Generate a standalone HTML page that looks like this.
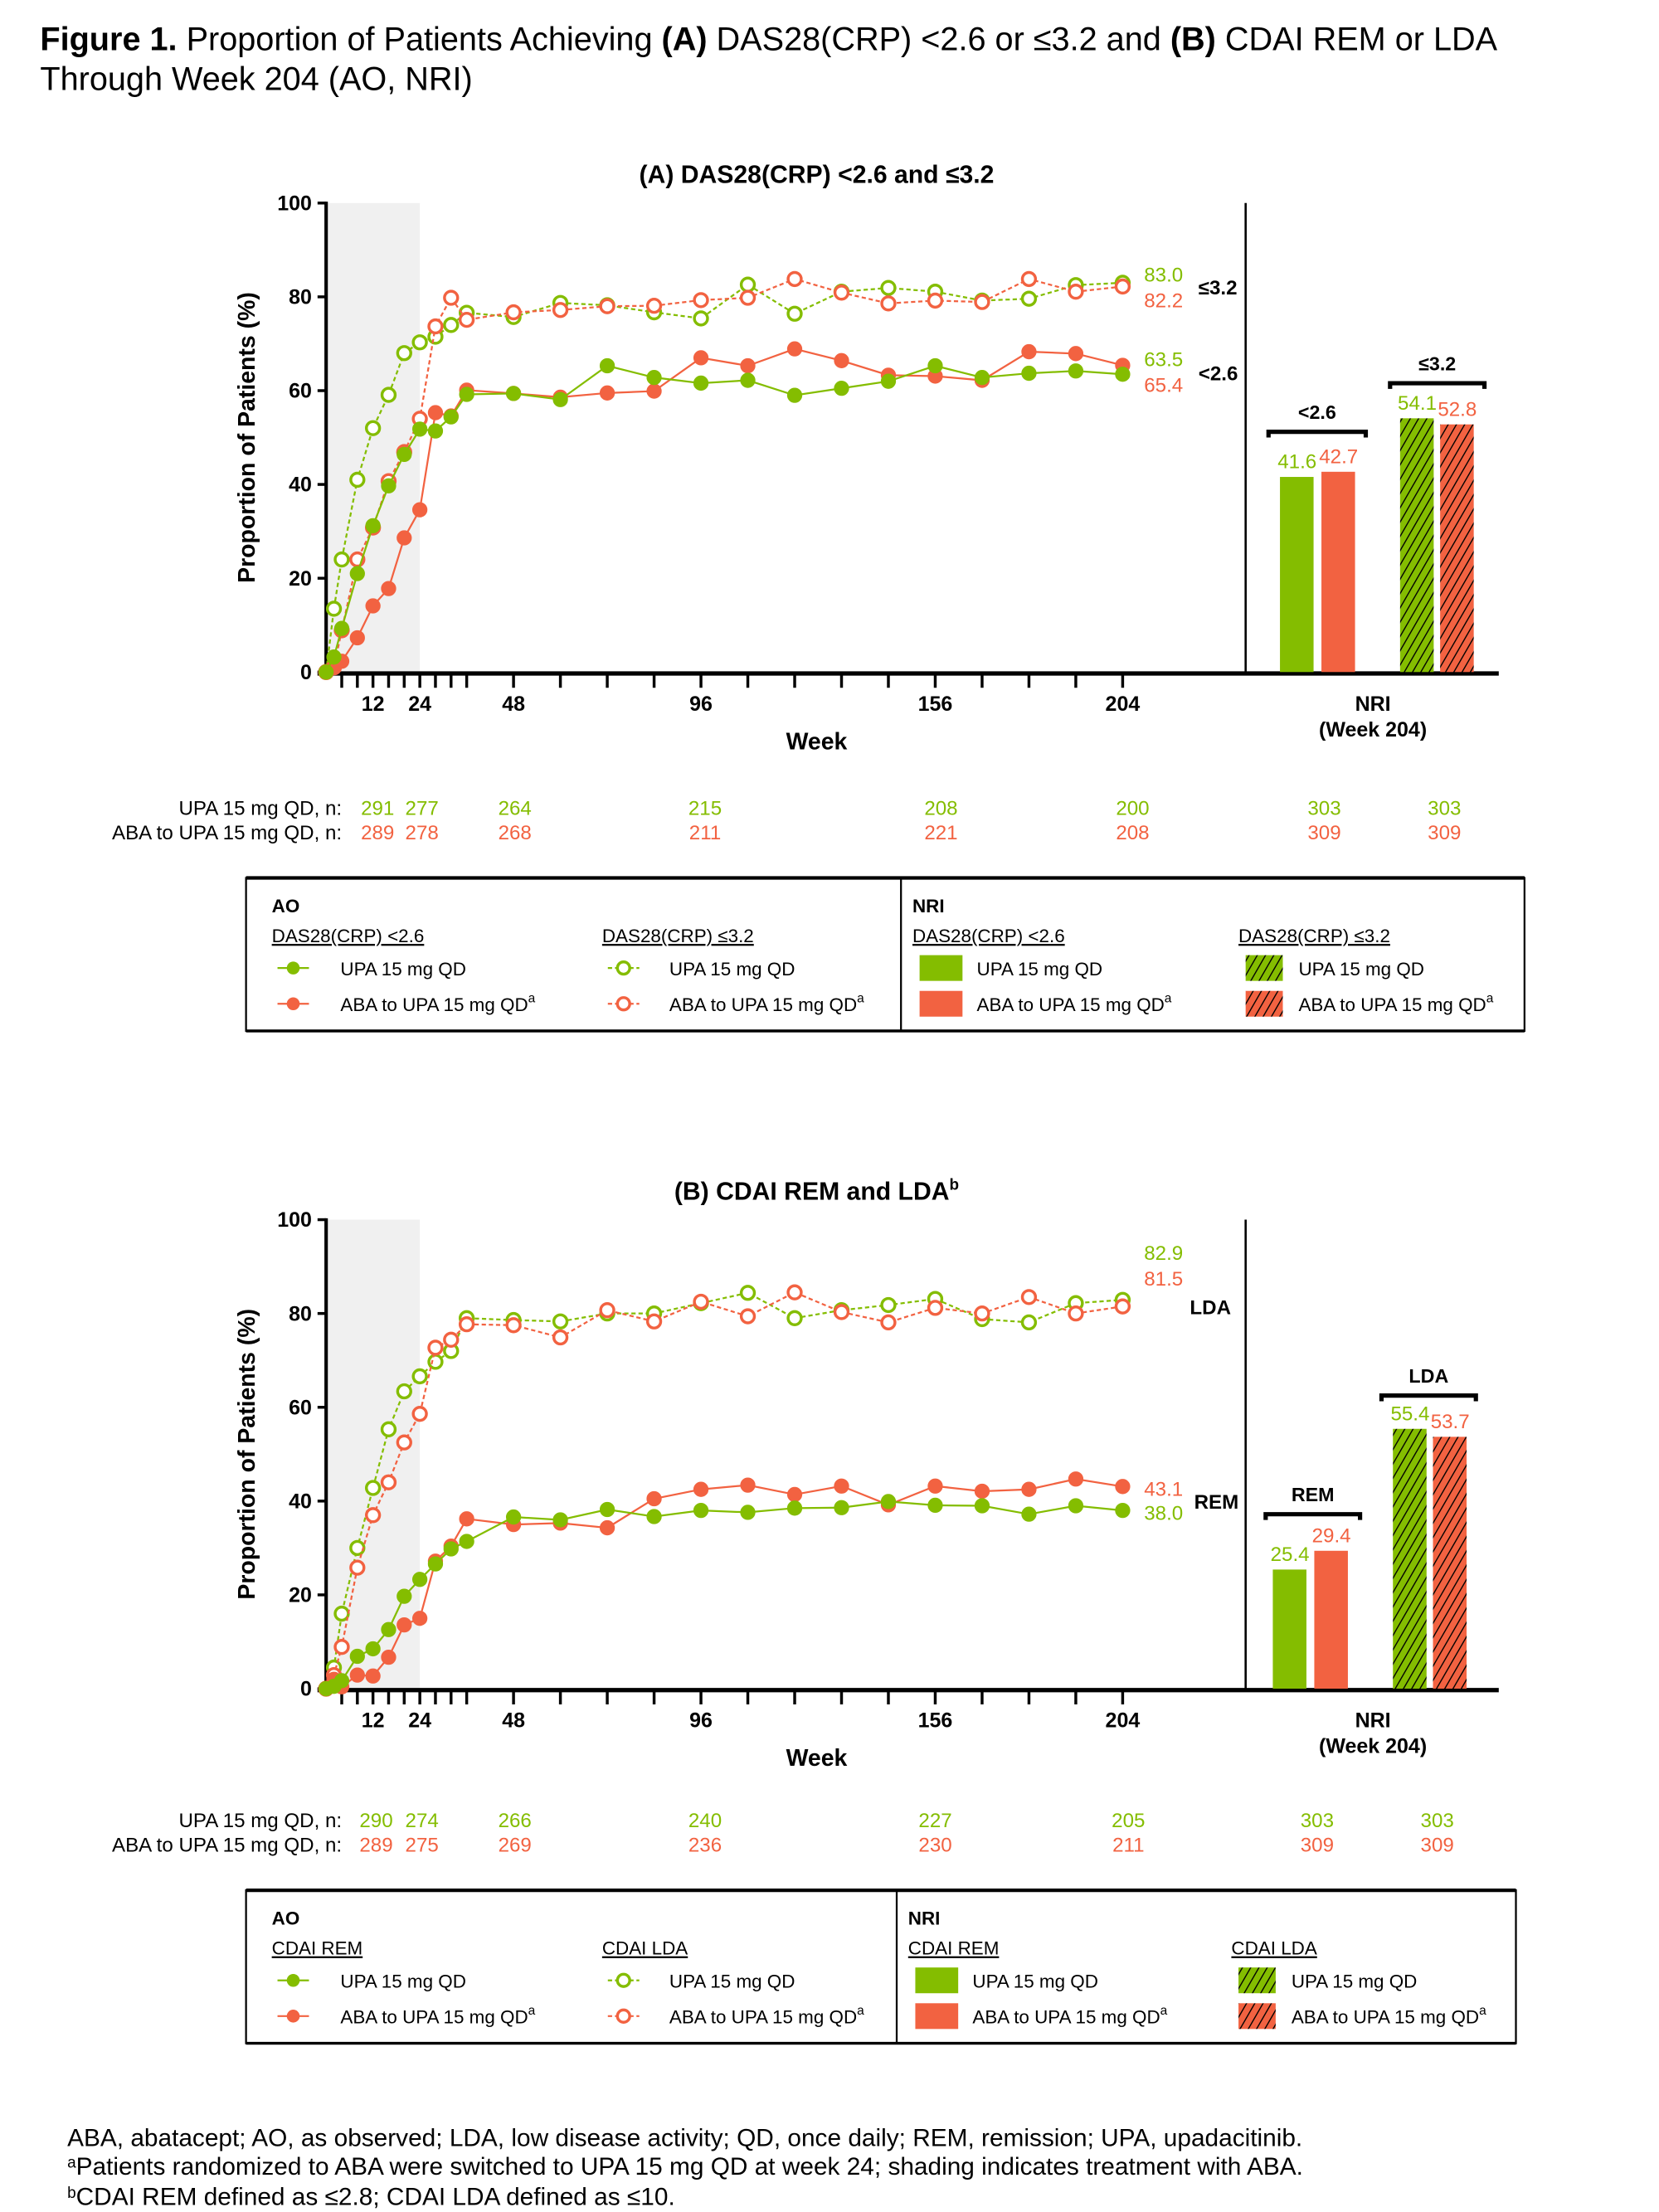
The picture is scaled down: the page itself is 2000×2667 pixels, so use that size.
<!DOCTYPE html>
<html><head><meta charset="utf-8"><style>
html,body{margin:0;padding:0;background:#fff}
svg{display:block}
text{font-family:"Liberation Sans",Arial,sans-serif}
.b{font-weight:bold}
</style></head><body>
<svg id="fig" xmlns="http://www.w3.org/2000/svg" width="2000" height="2667" viewBox="0 0 1160 1547">
<defs>
<pattern id="hatchG" patternUnits="userSpaceOnUse" width="5" height="5" patternTransform="rotate(30)"><rect width="5" height="5" fill="#84bd00"/><line x1="0" y1="0" x2="0" y2="5" stroke="#000" stroke-width="1.6"/></pattern>
<pattern id="hatchR" patternUnits="userSpaceOnUse" width="5" height="5" patternTransform="rotate(30)"><rect width="5" height="5" fill="#f26241"/><line x1="0" y1="0" x2="0" y2="5" stroke="#000" stroke-width="1.6"/></pattern>
</defs>
<g>
<text x="28" y="35" font-size="23"><tspan class="b">Figure 1.</tspan> Proportion of Patients Achieving <tspan class="b">(A)</tspan> DAS28(CRP) &lt;2.6 or ≤3.2 and <tspan class="b">(B)</tspan> CDAI REM or LDA</text>
<text x="28" y="63" font-size="23">Through Week 204 (AO, NRI)</text>
</g>
<g id="panelA"></g>
<g id="panelB"></g>
<g font-size="17.3">
<text x="47" y="1501">ABA, abatacept; AO, as observed; LDA, low disease activity; QD, once daily; REM, remission; UPA, upadacitinib.</text>
<text x="47" y="1521"><tspan font-size="11" dy="-5">a</tspan><tspan dy="5">Patients randomized to ABA were switched to UPA 15 mg QD at week 24; shading indicates treatment with ABA.</tspan></text>
<text x="47" y="1542"><tspan font-size="11" dy="-5">b</tspan><tspan dy="5">CDAI REM defined as ≤2.8; CDAI LDA defined as ≤10.</tspan></text>
</g>
</svg>
<script>
const weeks=[0,2,4,8,12,16,20,24,28,32,36,48,60,72,84,96,108,120,132,144,156,168,180,192,204];
const xTickWeeks=[4,8,12,16,20,24,28,32,36,48,60,72,84,96,108,120,132,144,156,168,180,192,204];
const xTickLabels=[12,24,48,96,156,204];
const yTicks=[0,20,40,60,80,100];
const aUpaSolid=[0,3.2,9.3,21,31.2,39.7,46.4,51.8,51.4,54.4,59.2,59.4,58.1,65.3,62.8,61.6,62.2,59,60.5,62,65.3,62.8,63.7,64.2,63.5];
const aAbaSolid=[0,1,2.3,7.3,14.1,17.8,28.6,34.6,55.3,54.6,60.1,59.4,58.6,59.5,59.9,67,65.3,68.9,66.4,63.3,63.1,62.2,68.3,67.9,65.4];
const aUpaOpen=[0,13.5,24,41,52,59.1,68,70.3,71.5,74,76.6,75.7,78.7,78.2,76.7,75.4,82.6,76.4,81.1,81.9,81.1,79.2,79.6,82.5,83.0];
const aAbaOpen=[0,1,8.9,24,30.8,40.7,46.9,54,73.7,79.8,75.1,76.7,77.2,78,78.1,79.3,79.8,83.8,80.9,78.6,79.2,78.9,83.8,81.1,82.2];
const bUpaSolid=[0,0.5,1.7,6.9,8.5,12.6,19.7,23.3,26.6,29.8,31.4,36.6,36,38.2,36.7,38,37.6,38.5,38.6,39.9,39.1,39,37.2,39,38.0];
const bAbaSolid=[0,2,0.4,2.9,2.7,6.7,13.6,15,27.2,30.4,36.2,35,35.3,34.3,40.5,42.5,43.4,41.4,43.2,39.2,43.2,42.1,42.5,44.7,43.1];
const bUpaOpen=[0,4.5,16,30,42.8,55.3,63.4,66.6,69.7,72,79,78.6,78.3,80,80,82.2,84.4,79,80.7,81.8,83.1,78.8,78.1,82.2,82.9];
const bAbaOpen=[0,2.9,8.9,25.8,37,44,52.5,58.6,72.7,74.4,77.7,77.5,74.9,80.7,78.3,82.5,79.4,84.5,80.3,78.1,81.2,80,83.5,80,81.5];
const aBarValues=[41.6,42.7,54.1,52.8];
const bBarValues=[25.4,29.4,55.4,53.7];
const aBarLabels=["41.6","42.7","54.1","52.8"];
const bBarLabels=["25.4","29.4","55.4","53.7"];
const aNUpa=["291","277","264","215","208","200","303","303"];
const aNAba=["289","278","268","211","221","208","309","309"];
const bNUpa=["290","274","266","240","227","205","303","303"];
const bNAba=["289","275","269","236","230","211","309","309"];

const G="#84bd00",R="#f26241",NS="http://www.w3.org/2000/svg";
function el(p,t,a,txt){const e=document.createElementNS(NS,t);for(const k in a)e.setAttribute(k,a[k]);if(txt!==undefined)e.textContent=txt;p.appendChild(e);return e;}

function panel(root,cfg){
  const y0=cfg.y0,y100=y0-328,X0=228,X1=785;
  const xs=w=>X0+(w/204)*(X1-X0);
  const ys=v=>y0-(v/100)*(y0-y100);
  let e;
  e=el(root,'text',{x:571,y:y100-14,'font-size':17.5,'text-anchor':'middle','class':'b'});
  
  e.textContent=cfg.title; if(cfg.sup){const s=el(e,'tspan',{'font-size':11,dy:-7},cfg.sup);}
  e=el(root,'rect',{x:X0,y:y100,width:xs(24)-X0,height:y0-y100,fill:'#f0f0f0'});
  
  e=el(root,'line',{x1:X0,y1:y100-1,x2:X0,y2:y0,stroke:'#000','stroke-width':2.4});
  
  e=el(root,'line',{x1:222,y1:y0+1,x2:1048,y2:y0+1,stroke:'#000','stroke-width':3});
  
  e=el(root,'line',{x1:871,y1:y100,x2:871,y2:y0,stroke:'#000','stroke-width':1.5});
  
  yTicks.forEach(t=>{
    e=el(root,'line',{x1:X0-6,y1:ys(t),x2:X0,y2:ys(t),stroke:'#000','stroke-width':2});
    
    e=el(root,'text',{x:X0-10,y:ys(t)+5,'font-size':14.5,'text-anchor':'end','class':'b'},String(t));
    
  });
  e=el(root,'text',{x:0,y:0,'font-size':16.5,'text-anchor':'middle','class':'b',transform:`translate(178,${(y0+y100)/2}) rotate(-90)`},'Proportion of Patients (%)');
  
  xTickWeeks.forEach(w=>{
    e=el(root,'line',{x1:xs(w),y1:y0,x2:xs(w),y2:y0+11,stroke:'#000','stroke-width':2});
    
  });
  xTickLabels.forEach(w=>{
    e=el(root,'text',{x:xs(w),y:y0+27,'font-size':14.5,'text-anchor':'middle','class':'b'},String(w));
    
  });
  e=el(root,'text',{x:571,y:y0+54,'font-size':16.5,'text-anchor':'middle','class':'b'},'Week');
  
  e=el(root,'text',{x:960,y:y0+27,'font-size':14.5,'text-anchor':'middle','class':'b'},'NRI');
  
  e=el(root,'text',{x:960,y:y0+45,'font-size':14.5,'text-anchor':'middle','class':'b'},'(Week 204)');
  
  const series=[[cfg.upaOpen,G,true,'upa-open-series'],[cfg.abaOpen,R,true,'aba-open-series'],[cfg.abaSolid,R,false,'aba-solid-series'],[cfg.upaSolid,G,false,'upa-solid-series']];
  series.forEach(([vals,c,open,nm])=>{
    const g=el(root,'g',{});
    
    const pts=vals.map((v,i)=>xs(weeks[i])+','+ys(v)).join(' ');
    const a={points:pts,fill:'none',stroke:c,'stroke-width':1.3};
    if(open)a['stroke-dasharray']='3,2';
    el(g,'polyline',a);
    vals.forEach((v,i)=>{
      const m=el(g,'circle',{cx:xs(weeks[i]),cy:ys(v),r:open?4.6:4.8,fill:open?'#fff':c,stroke:c,'stroke-width':open?2:1});
      
    });
  });
  cfg.endLabels.forEach(([t,x,y,c,bold])=>{
    e=el(root,'text',{x:x,y:y,'font-size':14,fill:c,'class':bold?'b':''},t);
    
  });
  cfg.barX.forEach((bx,i)=>{
    const v=cfg.bars[i];
    const fill=[G,R,'url(#hatchG)','url(#hatchR)'][i];
    e=el(root,'rect',{x:bx,y:ys(v),width:23.5,height:y0-ys(v),fill:fill});
    
    e=el(root,'text',{x:bx+12,y:ys(v)-6,'font-size':14,'text-anchor':'middle',fill:i%2?R:G},cfg.barLabels[i]);
    
  });
  cfg.brackets.forEach(([x1,x2,y,t])=>{
    e=el(root,'path',{d:`M${x1},${y+4}V${y}H${x2}V${y+4}`,fill:'none',stroke:'#000','stroke-width':3});
    
    e=el(root,'text',{x:(x1+x2)/2,y:y-9,'font-size':13.5,'text-anchor':'middle','class':'b'},t);
    
  });
  const nx=cfg.nx;
  [[cfg.nUpa,'UPA 15 mg QD, n:',G,0],[cfg.nAba,'ABA to UPA 15 mg QD, n:',R,17]].forEach(([arr,lab,c,dy])=>{
    const yy=cfg.nY+dy;
    e=el(root,'text',{x:239,y:yy,'font-size':14,'text-anchor':'end'},lab);
    
    arr.forEach((t,i)=>{
      e=el(root,'text',{x:nx[i],y:yy,'font-size':14,'text-anchor':'middle',fill:c},t);
      
    });
  });
  const L=cfg.leg, ly=L.y;
  const lg=el(root,'g',{});
  
  el(lg,'rect',{x:172,y:ly,width:L.w,height:107,fill:'none',stroke:'#000','stroke-width':1.3});
  el(lg,'line',{x1:172,y1:ly,x2:172+L.w,y2:ly,stroke:'#000','stroke-width':2.5});
  el(lg,'line',{x1:172,y1:ly+107,x2:172+L.w,y2:ly+107,stroke:'#000','stroke-width':2});
  el(lg,'line',{x1:L.div,y1:ly,x2:L.div,y2:ly+107,stroke:'#000','stroke-width':1.3});
  const T=(x,y,t,extra)=>{const a=Object.assign({x:x,y:y,'font-size':13},extra||{});const te=el(lg,'text',a,t);return te;};
  T(190,ly+24,'AO',{'class':'b'});T(L.div+8,ly+24,'NRI',{'class':'b'});
  T(190,ly+45,L.h1,{'text-decoration':'underline'});T(421,ly+45,L.h2,{'text-decoration':'underline'});
  T(L.div+8,ly+45,L.h1,{'text-decoration':'underline'});T(L.h4x,ly+45,L.h2,{'text-decoration':'underline'});
  [[G,ly+68,'UPA 15 mg QD',false],[R,ly+93,'ABA to UPA 15 mg QD',true]].forEach(([c,yy,t,sup])=>{
    const ent=el(lg,'g',{});
    
    el(ent,'line',{x1:194,y1:yy-5,x2:216,y2:yy-5,stroke:c,'stroke-width':1.3});
    el(ent,'circle',{cx:205,cy:yy-5,r:4.5,fill:c});
    el(ent,'line',{x1:425,y1:yy-5,x2:447,y2:yy-5,stroke:c,'stroke-width':1.3,'stroke-dasharray':'3,2'});
    el(ent,'circle',{cx:436,cy:yy-5,r:4.3,fill:'#fff',stroke:c,'stroke-width':2});
    const idx=c===G?0:1;
    el(ent,'rect',{x:L.div+13,y:yy-14,width:30,height:18,fill:c});
    el(ent,'rect',{x:L.h4x+5,y:yy-14,width:26,height:18,fill:idx?'url(#hatchR)':'url(#hatchG)'});
    [[238],[468],[L.div+53],[L.h4x+42]].forEach(([x])=>{
      const te=T(x,yy,t);
      if(sup){el(te,'tspan',{'font-size':9,dy:-6},'a');}
    });
  });
}

panel(document.getElementById('panelA'),{
  y0:470,title:'(A) DAS28(CRP) <2.6 and ≤3.2',
  upaSolid:aUpaSolid,abaSolid:aAbaSolid,upaOpen:aUpaOpen,abaOpen:aAbaOpen,
  endLabels:[['83.0',800,197,G],['82.2',800,215,R],['≤3.2',838,206,'#000',true],['63.5',800,256,G],['65.4',800,274,R],['<2.6',838,266,'#000',true]],
  bars:aBarValues,barLabels:aBarLabels,barX:[895,924,979,1007],
  brackets:[[887,955,302,'<2.6'],[972,1038,268,'≤3.2']],
  nY:570,nUpa:aNUpa,nAba:aNAba,nx:[264,295,360,493,658,792,926,1010],
  leg:{y:614,w:894,div:630,h1:'DAS28(CRP) <2.6',h2:'DAS28(CRP) ≤3.2',h4x:866}
});
panel(document.getElementById('panelB'),{
  y0:1181,title:'(B) CDAI REM and LDA',sup:'b',
  upaSolid:bUpaSolid,abaSolid:bAbaSolid,upaOpen:bUpaOpen,abaOpen:bAbaOpen,
  endLabels:[['82.9',800,881,G],['81.5',800,899,R],['LDA',832,919,'#000',true],['43.1',800,1046,R],['38.0',800,1063,G],['REM',835,1055,'#000',true]],
  bars:bBarValues,barLabels:bBarLabels,barX:[890,919,974,1002],
  brackets:[[885,951,1059,'REM'],[966,1032,976,'LDA']],
  nY:1278,nUpa:bNUpa,nAba:bNAba,nx:[263,295,360,493,654,789,921,1005],
  leg:{y:1322,w:888,div:627,h1:'CDAI REM',h2:'CDAI LDA',h4x:861}
});
</script>
</body></html>
